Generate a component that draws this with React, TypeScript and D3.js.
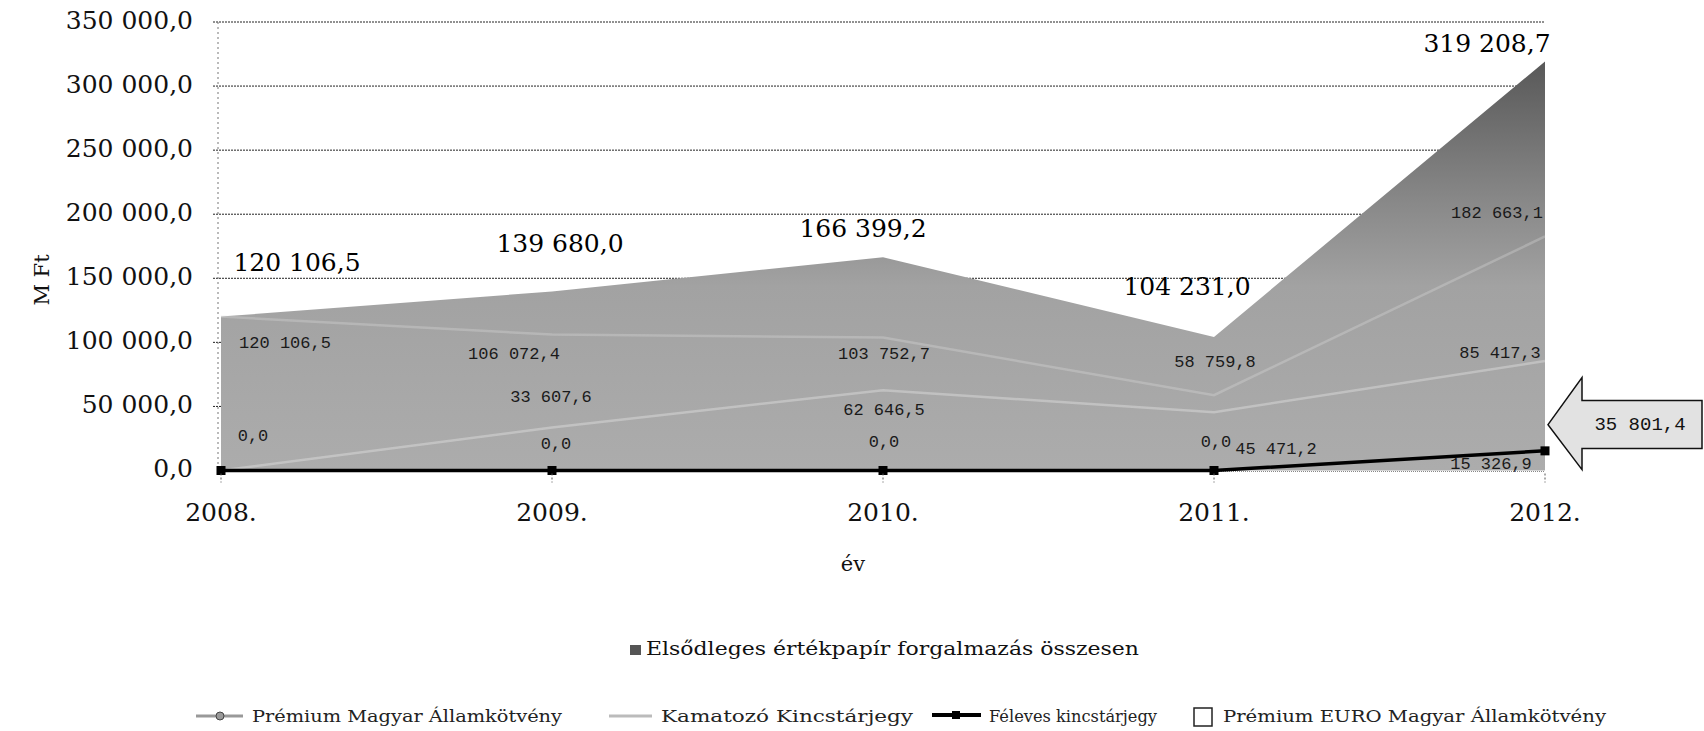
import React from "react";
import * as d3 from "d3";

// chart data (MFt)
const years = ["2008.", "2009.", "2010.", "2011.", "2012."];
const total = [120106.5, 139680.0, 166399.2, 104231.0, 319208.7];
const premium = [120106.5, 106072.4, 103752.7, 58759.8, 182663.1];
const kamatozo = [0, 33607.6, 62646.5, 45471.2, 85417.3];
const feleves = [0, 0, 0, 0, 15326.9];
const euro = [0, 0, 0, 0, 35801.4];
const yTicks = [0, 50000, 100000, 150000, 200000, 250000, 300000, 350000];

// label nudges in px, relative to the point
const totalLabelOff = [[76, -52], [8, -46], [-20, -27], [-27, -48], [-58, -16]];
const premiumLabelOff = [[64, 27], [-38, 20], [1, 17], [1, -33], [-48, -23]];
const kamatozoLabelOff = [null, [-1, -30], [1, 20], [62, 37], [-45, -8]];
const felevesLabelOff = [[32, -34], [4, -26], [1, -28], [2, -28], [-54, 14]];

const W = 1704;
const H = 731;
const serif = "'DejaVu Serif', serif";
const mono = "'Liberation Mono', monospace";

const hu = d3.formatLocale({ decimal: ",", thousands: " ", grouping: [3], currency: ["", ""] });
const fmt = hu.format(",.1f");

function App() {
  const x = d3.scalePoint<string>().domain(years).range([221, 1545]);
  const y = d3.scaleLinear().domain([0, 350000]).range([470.5, 22]);
  const x0 = x(years[0])!;
  const x1 = x(years[years.length - 1])!;

  const area = d3
    .area<number>()
    .x((d, i) => x(years[i])!)
    .y0(y(0))
    .y1((d) => y(d));
  const line = d3
    .line<number>()
    .x((d, i) => x(years[i])!)
    .y((d) => y(d));

  const smallLabels = (vals: number[], offs: (number[] | null)[], key: string) =>
    vals.map((v, i) => {
      const o = offs[i];
      if (!o) return null;
      return (
        <text
          key={key + i}
          x={x(years[i])! + o[0]}
          y={y(v) + o[1]}
          textAnchor="middle"
          dominantBaseline="middle"
          fontFamily={mono}
          fontSize={17}
          fill="#1a1a1a"
        >
          {fmt(v)}
        </text>
      );
    });

  // callout arrow for the EURO value in 2012
  const eIdx = euro.length - 1;
  const tx = x(years[eIdx])! + 3;
  const ty = y(euro[eIdx]);
  const hx = tx + 34;
  const arrowPath = `M${tx},${ty} L${hx},${ty - 47} L${hx},${ty - 24} L${W - 2},${ty - 24} L${W - 2},${ty + 24} L${hx},${ty + 24} L${hx},${ty + 45} Z`;

  return (
    <svg width={W} height={H} style={{ position: "absolute", left: 0, top: 0, background: "#fff" }}>
      <defs>
        <linearGradient id="areaGrad" gradientUnits="userSpaceOnUse" x1="0" x2="0" y1={y(320000)} y2={y(0)}>
          <stop offset="0" stopColor="#585858" />
          <stop offset="0.35" stopColor="#898989" />
          <stop offset="0.55" stopColor="#a2a2a2" />
          <stop offset="1" stopColor="#acacac" />
        </linearGradient>
      </defs>

      {/* gridlines */}
      {yTicks.map((t) => (
        <g key={t}>
          {t > 0 && (
            <line x1={x0 - 8} x2={x1} y1={y(t)} y2={y(t)} stroke="#222" strokeWidth={1} strokeDasharray="2,1" />
          )}
          <text x={193} y={y(t)} textAnchor="end" dominantBaseline="middle" fontFamily={serif} fontSize={25} fill="#111">
            {fmt(t)}
          </text>
        </g>
      ))}
      <line x1={x0 - 3} x2={x0 - 3} y1={y(350000)} y2={y(0) + 4} stroke="#777" strokeDasharray="2,3" />

      {/* total area */}
      <path d={area(total)!} fill="url(#areaGrad)" />

      {/* series lines (faint in the source) */}
      <path d={line(premium)!} fill="none" stroke="#e0e0e0" strokeOpacity={0.3} strokeWidth={2.5} />
      <path d={line(kamatozo)!} fill="none" stroke="#f0f0f0" strokeOpacity={0.35} strokeWidth={2.5} />
      <line x1={x0} x2={x1} y1={y(0) + 1} y2={y(0) + 1} stroke="#888" strokeDasharray="1,1" />
      <path d={line(feleves)!} fill="none" stroke="#000" strokeWidth={3.5} />
      {feleves.map((v, i) => (
        <rect key={i} x={x(years[i])! - 4.5} y={y(v) - 4.5} width={9} height={9} fill="#000" />
      ))}

      {/* x ticks + labels */}
      {years.map((yr) => (
        <g key={yr}>
          <line x1={x(yr)!} x2={x(yr)!} y1={y(0) + 3} y2={y(0) + 12} stroke="#555" strokeDasharray="2,2" />
          <text x={x(yr)!} y={514} textAnchor="middle" dominantBaseline="middle" fontFamily={serif} fontSize={25} fill="#111">
            {yr}
          </text>
        </g>
      ))}

      {/* value labels */}
      {total.map((v, i) => (
        <text
          key={"t" + i}
          x={x(years[i])! + totalLabelOff[i][0]}
          y={y(v) + totalLabelOff[i][1]}
          textAnchor="middle"
          dominantBaseline="middle"
          fontFamily={serif}
          fontSize={25}
          fill="#000"
        >
          {fmt(v)}
        </text>
      ))}
      {smallLabels(premium, premiumLabelOff, "p")}
      {smallLabels(kamatozo, kamatozoLabelOff, "k")}
      {smallLabels(feleves, felevesLabelOff, "f")}

      {/* callout */}
      <path d={arrowPath} fill="#e2e2e2" stroke="#111" strokeWidth={1.5} />
      <text x={1640} y={ty} textAnchor="middle" dominantBaseline="middle" fontFamily={mono} fontSize={19} fill="#111">
        {fmt(euro[eIdx])}
      </text>

      {/* axis titles */}
      <text transform="translate(43,280) rotate(-90)" textAnchor="middle" dominantBaseline="middle" fontFamily={serif} fontSize={21} fill="#111">
        M Ft
      </text>
      <text x={853} y={565} textAnchor="middle" dominantBaseline="middle" fontFamily={serif} fontSize={21} fill="#111">
        év
      </text>

      {/* legend */}
      <rect x={630} y={645} width={11} height={10} fill="#555" />
      <text x={646} y={650} dominantBaseline="middle" fontFamily={serif} fontSize={19} textLength={493} lengthAdjust="spacingAndGlyphs" fill="#111">
        Elsődleges értékpapír forgalmazás összesen
      </text>

      <line x1={196} x2={243} y1={716} y2={716} stroke="#999" strokeWidth={3} />
      <circle cx={220} cy={716} r={4} fill="#999" stroke="#444" />
      <text x={252} y={717} dominantBaseline="middle" fontFamily={serif} fontSize={17} textLength={310} lengthAdjust="spacingAndGlyphs" fill="#222">
        Prémium Magyar Államkötvény
      </text>

      <line x1={609} x2={652} y1={716} y2={716} stroke="#bbb" strokeWidth={3} />
      <text x={661} y={717} dominantBaseline="middle" fontFamily={serif} fontSize={17} textLength={252} lengthAdjust="spacingAndGlyphs" fill="#222">
        Kamatozó Kincstárjegy
      </text>

      <line x1={932} x2={981} y1={715} y2={715} stroke="#000" strokeWidth={4} />
      <rect x={952} y={711} width={8} height={8} fill="#000" />
      <text x={989} y={717} dominantBaseline="middle" fontFamily={serif} fontSize={16} textLength={168} lengthAdjust="spacingAndGlyphs" fill="#222">
        Féleves kincstárjegy
      </text>

      <rect x={1194} y={708} width={18} height={18} fill="none" stroke="#222" strokeWidth={1.5} />
      <text x={1223} y={717} dominantBaseline="middle" fontFamily={serif} fontSize={17} textLength={383} lengthAdjust="spacingAndGlyphs" fill="#222">
        Prémium EURO Magyar Államkötvény
      </text>
    </svg>
  );
}

export default App;
